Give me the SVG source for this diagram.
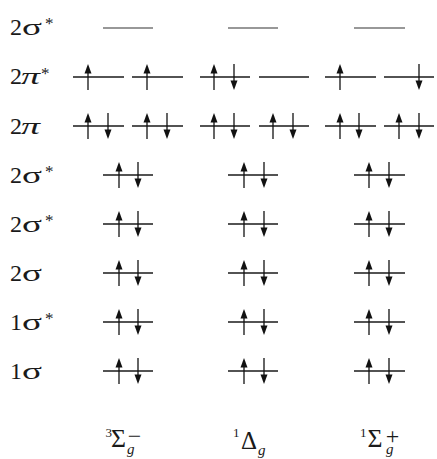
<svg xmlns="http://www.w3.org/2000/svg" width="437" height="459" viewBox="0 0 437 459">
<style>
.lvl{stroke:#1a1a1a;stroke-width:1.3;fill:none}
.emp{stroke:#333;stroke-width:1.2;fill:none}
.ar line{stroke:#111;stroke-width:1.3}
.ar polygon{fill:#111;stroke:none}
.lab{font-family:"Liberation Serif","Times New Roman",serif;font-size:24px;fill:#1a1a1a}
.st{font-size:17px}
.it{font-style:italic}
</style>
<defs>
<g id="u" class="ar"><line x1="0" y1="13" x2="0" y2="-5"/><polygon points="0,-13 -3.5,-3.5 3.5,-3.5"/></g>
<g id="d" class="ar"><line x1="0" y1="-13" x2="0" y2="5"/><polygon points="0,13 -3.5,3.5 3.5,3.5"/></g>
</defs>
<rect width="437" height="459" fill="#fff"/>

<g id="labels" class="lab">
<g id="lab-2sigma-star-top"><text x="10" y="34.5">2</text><text x="22" y="34.5" textLength="20" lengthAdjust="spacingAndGlyphs">σ</text><text class="st" x="45" y="29">*</text></g>
<g id="lab-2pi-star"><text x="10" y="84">2</text><text class="it" x="21" y="84" textLength="19" lengthAdjust="spacingAndGlyphs">π</text><text class="st" x="41" y="79">*</text></g>
<g id="lab-2pi"><text x="10" y="133.5">2</text><text class="it" x="21" y="133.5" textLength="19" lengthAdjust="spacingAndGlyphs">π</text></g>
<g id="lab-2sigma-star-a"><text x="10" y="182.5">2</text><text x="22" y="182.5" textLength="20" lengthAdjust="spacingAndGlyphs">σ</text><text class="st" x="45" y="177">*</text></g>
<g id="lab-2sigma-star-b"><text x="10" y="231.5">2</text><text x="22" y="231.5" textLength="20" lengthAdjust="spacingAndGlyphs">σ</text><text class="st" x="45" y="226">*</text></g>
<g id="lab-2sigma"><text x="10" y="280.5">2</text><text x="22" y="280.5" textLength="20" lengthAdjust="spacingAndGlyphs">σ</text></g>
<g id="lab-1sigma-star"><text x="10" y="329.5">1</text><text x="22" y="329.5" textLength="20" lengthAdjust="spacingAndGlyphs">σ</text><text class="st" x="45" y="324">*</text></g>
<g id="lab-1sigma"><text x="10" y="378.5">1</text><text x="22" y="378.5" textLength="20" lengthAdjust="spacingAndGlyphs">σ</text></g>
</g>

<g id="row-2sigma-star-top">
<line class="emp" x1="103" y1="28" x2="153" y2="28"/>
<line class="emp" x1="228" y1="28" x2="278" y2="28"/>
<line class="emp" x1="354" y1="28" x2="405" y2="28"/>
</g>

<g id="row-2pi-star">
<line class="lvl" x1="73" y1="77" x2="124" y2="77"/>
<line class="lvl" x1="132" y1="77" x2="183" y2="77"/>
<line class="lvl" x1="200" y1="77" x2="250" y2="77"/>
<line class="lvl" x1="259" y1="77" x2="309" y2="77"/>
<line class="lvl" x1="325" y1="77" x2="376" y2="77"/>
<line class="lvl" x1="384" y1="77" x2="434" y2="77"/>
<use href="#u" x="88" y="77"/>
<use href="#u" x="147" y="77"/>
<use href="#u" x="214" y="77"/><use href="#d" x="234" y="77"/>
<use href="#u" x="340" y="77"/>
<use href="#d" x="419" y="77"/>
</g>

<g id="row-2pi">
<line class="lvl" x1="73" y1="126" x2="124" y2="126"/>
<line class="lvl" x1="132" y1="126" x2="183" y2="126"/>
<line class="lvl" x1="200" y1="126" x2="250" y2="126"/>
<line class="lvl" x1="259" y1="126" x2="309" y2="126"/>
<line class="lvl" x1="325" y1="126" x2="376" y2="126"/>
<line class="lvl" x1="384" y1="126" x2="434" y2="126"/>
<use href="#u" x="88" y="126"/><use href="#d" x="108" y="126"/>
<use href="#u" x="147" y="126"/><use href="#d" x="167" y="126"/>
<use href="#u" x="214" y="126"/><use href="#d" x="234" y="126"/>
<use href="#u" x="273" y="126"/><use href="#d" x="293" y="126"/>
<use href="#u" x="340" y="126"/><use href="#d" x="359" y="126"/>
<use href="#u" x="399" y="126"/><use href="#d" x="419" y="126"/>
</g>

<g id="row-2sigma-star-a">
<line class="lvl" x1="103" y1="175" x2="153" y2="175"/>
<line class="lvl" x1="228" y1="175" x2="278" y2="175"/>
<line class="lvl" x1="354" y1="175" x2="405" y2="175"/>
<use href="#u" x="119" y="175"/><use href="#d" x="138" y="175"/>
<use href="#u" x="244" y="175"/><use href="#d" x="264" y="175"/>
<use href="#u" x="369" y="175"/><use href="#d" x="389" y="175"/>
</g>

<g id="row-2sigma-star-b">
<line class="lvl" x1="103" y1="224" x2="153" y2="224"/>
<line class="lvl" x1="228" y1="224" x2="278" y2="224"/>
<line class="lvl" x1="354" y1="224" x2="405" y2="224"/>
<use href="#u" x="119" y="224"/><use href="#d" x="138" y="224"/>
<use href="#u" x="244" y="224"/><use href="#d" x="264" y="224"/>
<use href="#u" x="369" y="224"/><use href="#d" x="389" y="224"/>
</g>

<g id="row-2sigma">
<line class="lvl" x1="103" y1="273" x2="153" y2="273"/>
<line class="lvl" x1="228" y1="273" x2="278" y2="273"/>
<line class="lvl" x1="354" y1="273" x2="405" y2="273"/>
<use href="#u" x="119" y="273"/><use href="#d" x="138" y="273"/>
<use href="#u" x="244" y="273"/><use href="#d" x="264" y="273"/>
<use href="#u" x="369" y="273"/><use href="#d" x="389" y="273"/>
</g>

<g id="row-1sigma-star">
<line class="lvl" x1="103" y1="322" x2="153" y2="322"/>
<line class="lvl" x1="228" y1="322" x2="278" y2="322"/>
<line class="lvl" x1="354" y1="322" x2="405" y2="322"/>
<use href="#u" x="119" y="322"/><use href="#d" x="138" y="322"/>
<use href="#u" x="244" y="322"/><use href="#d" x="264" y="322"/>
<use href="#u" x="369" y="322"/><use href="#d" x="389" y="322"/>
</g>

<g id="row-1sigma">
<line class="lvl" x1="103" y1="371" x2="153" y2="371"/>
<line class="lvl" x1="228" y1="371" x2="278" y2="371"/>
<line class="lvl" x1="354" y1="371" x2="405" y2="371"/>
<use href="#u" x="119" y="371"/><use href="#d" x="138" y="371"/>
<use href="#u" x="244" y="371"/><use href="#d" x="264" y="371"/>
<use href="#u" x="369" y="371"/><use href="#d" x="389" y="371"/>
</g>

<g id="term-3Sigma" class="lab">
<text x="105.5" y="436.5" font-size="13">3</text>
<text x="111" y="447" font-size="25" textLength="15" lengthAdjust="spacingAndGlyphs">Σ</text>
<text x="127" y="454" font-size="15" class="it">g</text>
<text x="134.5" y="444" font-size="24" text-anchor="middle">−</text>
</g>
<g id="term-1Delta" class="lab">
<text x="233" y="437" font-size="13">1</text>
<text x="241" y="448.5" font-size="25" textLength="16" lengthAdjust="spacingAndGlyphs">Δ</text>
<text x="258" y="455" font-size="15" class="it">g</text>
</g>
<g id="term-1Sigma" class="lab">
<text x="360" y="436.5" font-size="13">1</text>
<text x="367.5" y="447" font-size="25" textLength="15" lengthAdjust="spacingAndGlyphs">Σ</text>
<text x="386" y="454" font-size="15" class="it">g</text>
<text x="392.5" y="444" font-size="24" text-anchor="middle">+</text>
</g>
</svg>
